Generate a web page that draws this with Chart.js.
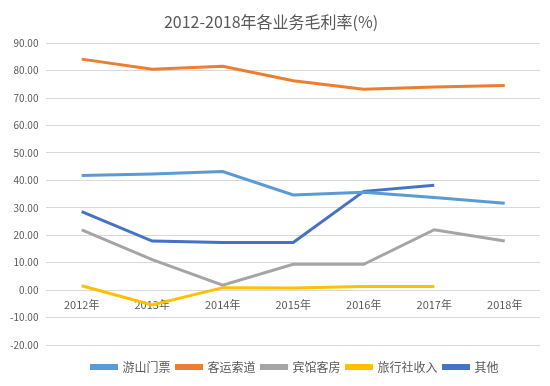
<!DOCTYPE html>
<html><head><meta charset="utf-8">
<script src="https://cdn.jsdelivr.net/npm/chart.js@4/dist/chart.umd.min.js"></script>
<style>html,body{margin:0;padding:0;background:#fff}#wrap{width:550px;height:386px}</style>
</head><body><div id="wrap"><canvas id="c" width="550" height="386"></canvas></div>
<script>
const categories = ['2012年','2013年','2014年','2015年','2016年','2017年','2018年'];
const seriesNames = ['游山门票','客运索道','宾馆客房','旅行社收入','其他'];
const youShanMenPiao = [41.8, 42.3, 43.2, 34.7, 35.7, 33.8, 31.7];
const keYunSuoDao = [84.2, 80.5, 81.6, 76.3, 73.2, 74.0, 74.6];
const binGuanKeFang = [22.0, 11.1, 1.8, 9.4, 9.4, 22.0, 17.9];
const lvXingSheShouRu = [1.6, -5.4, 0.9, 0.8, 1.3, 1.3, null];
const qiTa = [28.6, 17.9, 17.4, 17.4, 36.0, 38.2, null];
const colors = ['#5B9BD5','#ED7D31','#A5A5A5','#FFC000','#4472C4'];
const allSeries = [youShanMenPiao, keYunSuoDao, binGuanKeFang, lvXingSheShouRu, qiTa];
const FONT = "'Noto Sans CJK SC', 'Open Sans', sans-serif";
const legendAdjust = {
  id: 'legendAdjust',
  beforeLayout(chart) {
    const lg = chart.legend;
    if (lg && !lg._patched) {
      const f = lg.fit.bind(lg);
      lg.fit = function () { f(); this.height += 9; };
      lg._patched = true;
    }
  },
  afterLayout(chart) {
    const lg = chart.legend;
    if (lg) { lg.left += 24; lg.right += 24; lg.top += 10; lg.bottom += 10; }
  }
};
new Chart(document.getElementById('c'), {
  type: 'line',
  data: {
    labels: categories,
    datasets: allSeries.map((d, i) => ({
      label: seriesNames[i], data: d, borderColor: colors[i], backgroundColor: colors[i],
      borderWidth: 3, pointRadius: 0, tension: 0, spanGaps: false
    }))
  },
  plugins: [legendAdjust],
  options: {
    responsive: false, animation: false,
    layout: { padding: { left: 2, right: 10, top: 0, bottom: 4 } },
    plugins: {
      title: { display: true, text: '2012-2018年各业务毛利率(%)', color: '#595959',
        font: { family: FONT, size: 16, weight: 'normal' }, padding: { top: 12, bottom: 12 } },
      legend: { position: 'bottom', labels: { color: '#595959', boxWidth: 25, boxHeight: 3,
        font: { family: FONT, size: 12 }, padding: 6 } },
      tooltip: { enabled: false }
    },
    scales: {
      x: { position: { y: 0 }, offset: true, grid: { display: false, offset: true }, border: { display: false },
        ticks: { color: '#595959', font: { family: FONT, size: 11 }, padding: 0, maxRotation: 0 } },
      y: { min: -20, max: 90, grid: { color: '#D9D9D9', lineWidth: 1, drawTicks: false }, border: { display: false },
        ticks: { stepSize: 10, color: '#595959', font: { family: FONT, size: 10 }, padding: 8,
          callback: v => v.toFixed(2) } }
    }
  }
});
</script></body></html>
